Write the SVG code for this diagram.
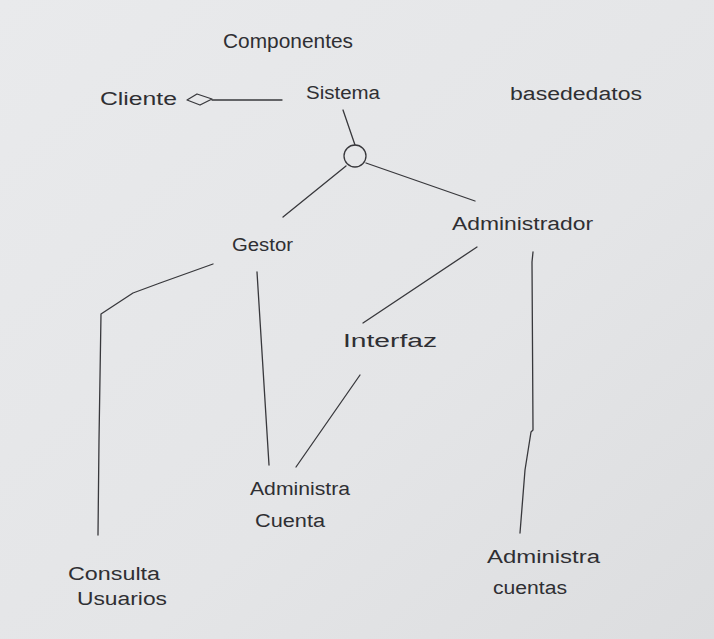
<svg xmlns="http://www.w3.org/2000/svg" width="714" height="639" viewBox="0 0 714 639">
<defs>
<linearGradient id="paper" x1="0" y1="0" x2="1" y2="1">
<stop offset="0" stop-color="#e9eaec"/>
<stop offset="0.6" stop-color="#e4e5e7"/>
<stop offset="1" stop-color="#dcdddf"/>
</linearGradient>
<style>
text{font-family:"Liberation Sans","DejaVu Sans",sans-serif;fill:#2f2f33;font-weight:normal;}
.big{font-size:21px;}
.mid{font-size:18px;}
.ln{fill:none;stroke:#38383c;stroke-width:1.3;stroke-linecap:round;stroke-linejoin:round;}
</style>
</defs>
<rect x="0" y="0" width="714" height="639" fill="url(#paper)"/>
<g id="connectors">
<path class="ln" d="M212,100 L282,100"/>
<path class="ln" d="M343,110 L355,145"/>
<path class="ln" d="M346,166 L283,217"/>
<path class="ln" d="M366,163 L475,201"/>
<path class="ln" d="M213,264 L160,283 L133,293 L101,314 L99,440 L98,535"/>
<path class="ln" d="M257,272 L269,465"/>
<path class="ln" d="M477,247 L363,323"/>
<path class="ln" d="M360,375 L296,467"/>
<path class="ln" d="M533,252 L532,262 L533,430 L531,432 L525,470 L520,533"/>
</g>
<g id="componentes"><text class="big" x="223" y="48" textLength="130" lengthAdjust="spacingAndGlyphs">Componentes</text></g>
<g id="cliente">
<text class="mid" x="100" y="105" textLength="77" lengthAdjust="spacingAndGlyphs">Cliente</text>
<path class="ln" d="M187,100 L197,94 L212,99 L200,105 Z"/>
</g>
<g id="sistema">
<text class="mid" x="306" y="99" textLength="74" lengthAdjust="spacingAndGlyphs">Sistema</text>
<circle class="ln" cx="355" cy="156" r="11"/>
</g>
<g id="basededatos"><text class="mid" x="510" y="100" textLength="132" lengthAdjust="spacingAndGlyphs">basededatos</text></g>
<g id="administrador"><text class="mid" x="452" y="230" textLength="141" lengthAdjust="spacingAndGlyphs">Administrador</text></g>
<g id="gestor"><text class="mid" x="232" y="251" textLength="61" lengthAdjust="spacingAndGlyphs">Gestor</text></g>
<g id="interfaz"><text class="mid" x="343" y="347" textLength="94" lengthAdjust="spacingAndGlyphs">Interfaz</text></g>
<g id="administra-cuenta">
<text class="mid" x="250" y="495" textLength="100" lengthAdjust="spacingAndGlyphs">Administra</text>
<text class="mid" x="255" y="527" textLength="70" lengthAdjust="spacingAndGlyphs">Cuenta</text>
</g>
<g id="consulta-usuarios">
<text class="mid" x="68" y="580" textLength="92" lengthAdjust="spacingAndGlyphs">Consulta</text>
<text class="mid" x="77" y="605" textLength="90" lengthAdjust="spacingAndGlyphs">Usuarios</text>
</g>
<g id="administra-cuentas">
<text class="mid" x="487" y="563" textLength="113" lengthAdjust="spacingAndGlyphs">Administra</text>
<text class="mid" x="493" y="594" textLength="74" lengthAdjust="spacingAndGlyphs">cuentas</text>
</g>
</svg>
